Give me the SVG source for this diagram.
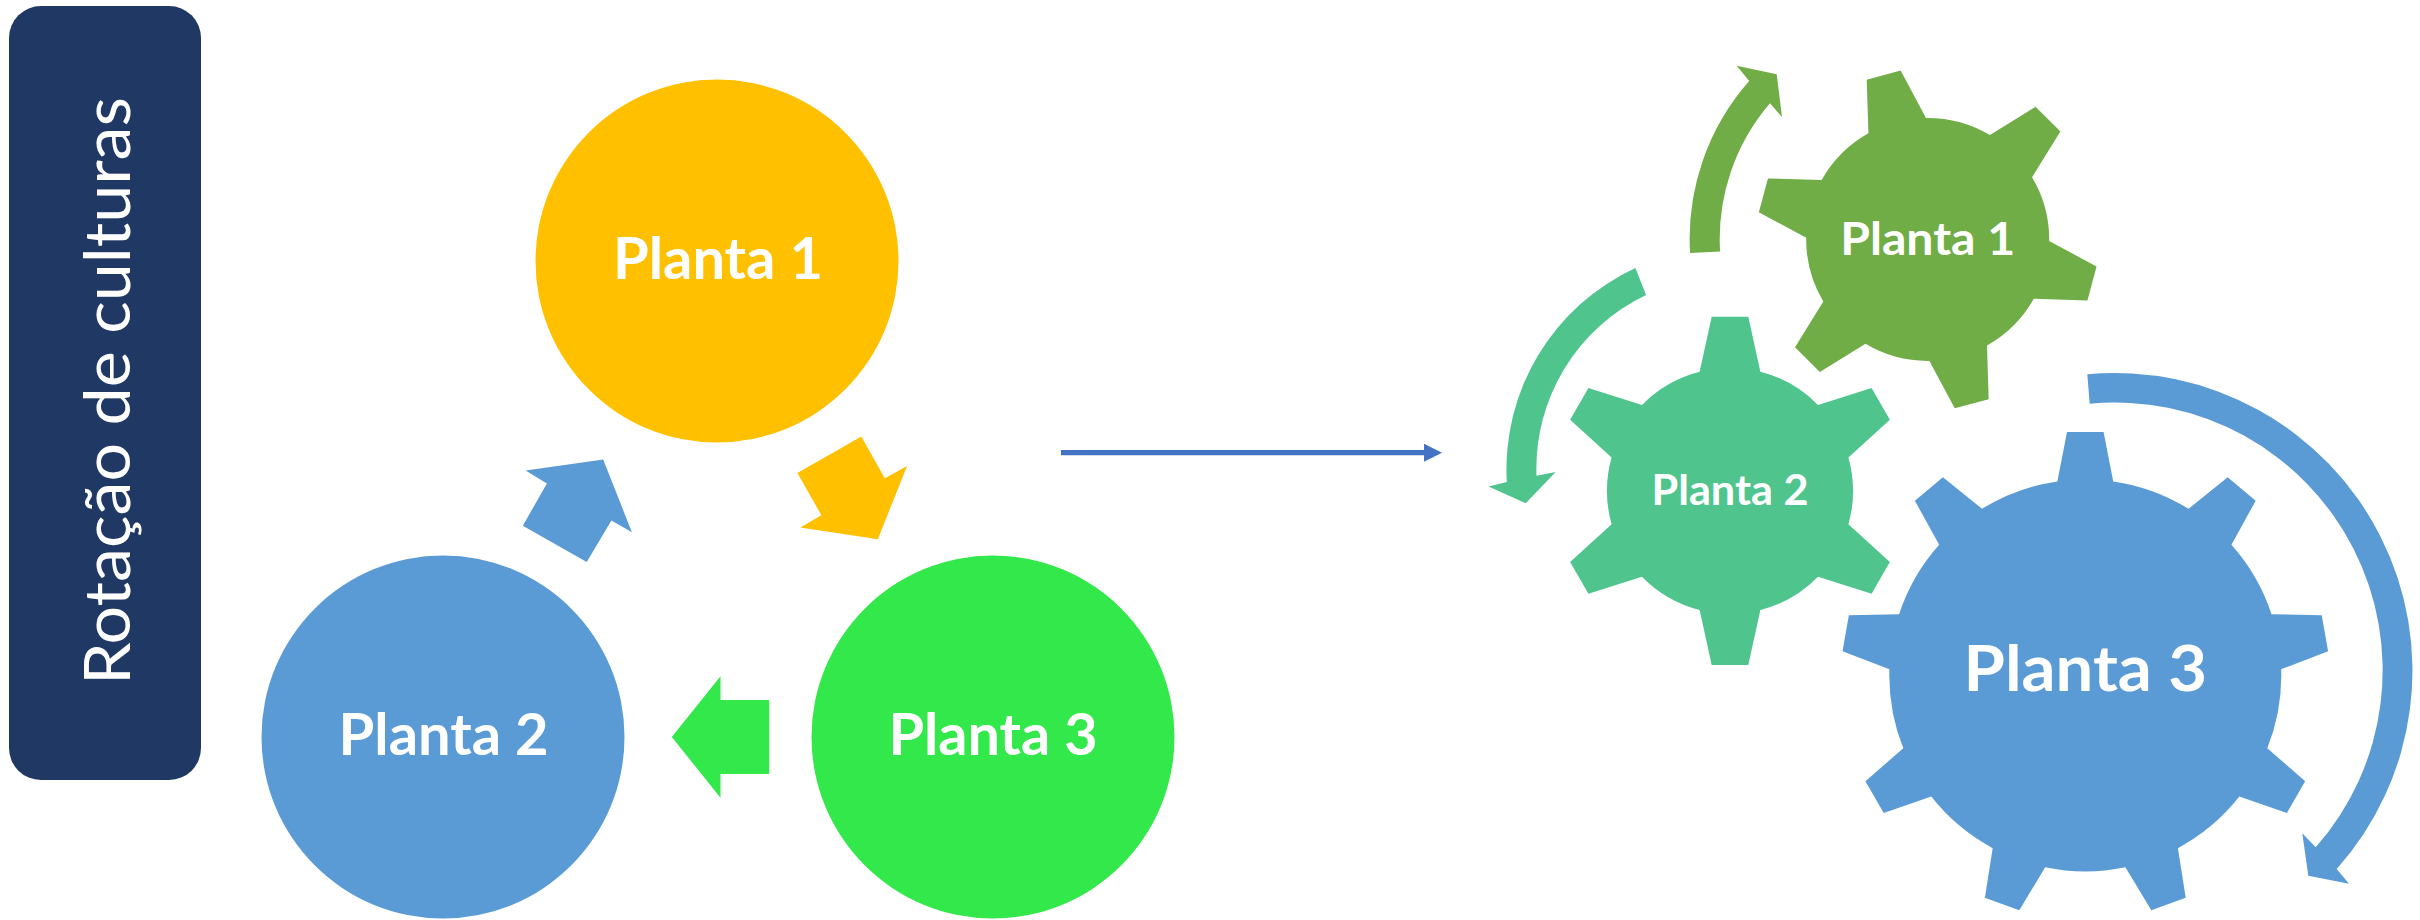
<svg xmlns="http://www.w3.org/2000/svg" width="2420" height="920" viewBox="0 0 2420 920">
<defs>
<style>
.lbl{font-family:Lato,"Open Sans","Liberation Sans",sans-serif;font-weight:700;fill:#ffffff;text-anchor:middle}
.title{font-family:Lato,"Open Sans","Liberation Sans",sans-serif;font-weight:400;fill:#ffffff;text-anchor:middle}
.yellow{fill:#FFC000}
.blue{fill:#5B9BD5}
.lime{fill:#33E84A}
.olive{fill:#70AD47}
.teal{fill:#4FC58D}
</style>
<marker id="head" markerUnits="userSpaceOnUse" markerWidth="18" markerHeight="18" refX="0" refY="9" orient="auto">
<path d="M0,0 L18,9 L0,18 Z" fill="#4472C4"/>
</marker>
</defs>
<rect x="0" y="0" width="2420" height="920" fill="#ffffff"/>

<g id="title">
<rect x="9" y="6" width="192" height="774" rx="32" ry="32" fill="#203864"/>
<text class="title" transform="translate(130,391) rotate(-90)" x="0" y="0" font-size="64" textLength="588" lengthAdjust="spacingAndGlyphs">Rotação de culturas</text>
</g>

<g id="circle1">
<circle class="yellow" cx="717" cy="261" r="181.5"/>
<text class="lbl" x="718" y="279" font-size="56.5" textLength="210" lengthAdjust="spacingAndGlyphs">Planta 1</text>
</g>
<g id="circle2">
<circle class="blue" cx="443" cy="737" r="181.5"/>
<text class="lbl" x="443.6" y="755" font-size="56.5" textLength="210" lengthAdjust="spacingAndGlyphs">Planta 2</text>
</g>
<g id="circle3">
<circle class="lime" cx="993" cy="737" r="181.5"/>
<text class="lbl" x="993" y="755" font-size="56.5" textLength="209" lengthAdjust="spacingAndGlyphs">Planta 3</text>
</g>

<g id="gear1">
<path class="olive" d="M1868.42,133.34 L1866.70,79.65 L1900.65,70.55 L1926.00,117.91 A121.5,121.5 0 0 1 1989.91,135.03 L2035.55,106.70 L2060.40,131.55 L2032.07,177.19 A121.5,121.5 0 0 1 2049.19,241.10 L2096.55,266.45 L2087.45,300.40 L2033.76,298.68 A121.5,121.5 0 0 1 1986.98,345.46 L1988.70,399.15 L1954.75,408.25 L1929.40,360.89 A121.5,121.5 0 0 1 1865.49,343.77 L1819.85,372.10 L1795.00,347.25 L1823.33,301.61 A121.5,121.5 0 0 1 1806.21,237.70 L1758.85,212.35 L1767.95,178.40 L1821.64,180.12 A121.5,121.5 0 0 1 1868.42,133.34 Z"/>
<text class="lbl" x="1927.7" y="255.2" font-size="46.6" textLength="175" lengthAdjust="spacingAndGlyphs">Planta 1</text>
</g>
<g id="gear2">
<path class="teal" d="M1699.62,371.71 L1711.71,316.86 L1748.29,316.86 L1760.38,371.71 A123,123 0 0 1 1818.03,405.00 L1871.58,388.04 L1889.87,419.72 L1848.41,457.62 A123,123 0 0 1 1848.41,524.18 L1889.87,562.08 L1871.58,593.76 L1818.03,576.80 A123,123 0 0 1 1760.38,610.09 L1748.29,664.94 L1711.71,664.94 L1699.62,610.09 A123,123 0 0 1 1641.97,576.80 L1588.42,593.76 L1570.13,562.08 L1611.59,524.18 A123,123 0 0 1 1611.59,457.62 L1570.13,419.72 L1588.42,388.04 L1641.97,405.00 A123,123 0 0 1 1699.62,371.71 Z"/>
<text class="lbl" x="1730" y="504.6" font-size="42.6" textLength="157" lengthAdjust="spacingAndGlyphs">Planta 2</text>
</g>
<g id="gear3">
<path class="blue" d="M2057.35,481.40 L2067.00,432.09 L2103.60,432.09 L2113.25,481.40 A196,196 0 0 1 2188.59,508.82 L2227.67,477.25 L2255.71,500.77 L2231.42,544.77 A196,196 0 0 1 2271.50,614.19 L2321.74,615.13 L2328.09,651.17 L2281.20,669.24 A196,196 0 0 1 2267.29,748.19 L2305.17,781.22 L2286.87,812.89 L2239.34,796.61 A196,196 0 0 1 2177.93,848.13 L2185.71,897.78 L2151.33,910.30 L2125.38,867.26 A196,196 0 0 1 2045.22,867.26 L2019.27,910.30 L1984.89,897.78 L1992.67,848.13 A196,196 0 0 1 1931.26,796.61 L1883.73,812.89 L1865.43,781.22 L1903.31,748.19 A196,196 0 0 1 1889.40,669.24 L1842.51,651.17 L1848.86,615.13 L1899.10,614.19 A196,196 0 0 1 1939.18,544.77 L1914.89,500.77 L1942.93,477.25 L1982.01,508.82 A196,196 0 0 1 2057.35,481.40 Z"/>
<text class="lbl" x="2085.3" y="691" font-size="63.9" textLength="243.5" lengthAdjust="spacingAndGlyphs">Planta 3</text>
</g>

<g id="connectors">
<polygon class="yellow" points="797.4,472.9 861.3,436.5 884.8,478.2 907.1,465.9 877.8,539.2 800.3,527.5 821.4,515.2"/>
<polygon class="lime" points="671.8,737 720.5,676.2 720.5,700 769.2,700 769.2,774 720.5,774 720.5,797.8"/>
<polygon class="blue" points="525.7,470.6 603.2,459.4 631.9,532.2 611.4,520.5 586.7,562.1 522.8,525.7 546.9,483.5"/>
<line x1="1061" y1="452.7" x2="1424" y2="452.7" stroke="#4472C4" stroke-width="5.3" marker-end="url(#head)"/>
<path class="olive" d="M1690.1,253.1 A238,238 0 0 1 1749.2,81.0 L1736.7,65.7 L1776.7,74.3 L1782.0,117.0 L1770.0,103.3 A208,208 0 0 0 1720.1,251.4 Z"/>
<path class="teal" d="M1635.4,268.1 A221.5,221.5 0 0 0 1506.8,482.0 L1488.5,486.5 L1525.7,503.2 L1555.7,472.0 L1536.5,475.7 A192,192 0 0 1 1646.1,295.1 Z"/>
<path class="blue" d="M2087.3,374.3 A297.6,297.6 0 0 1 2336.7,869.0 L2349.0,883.7 L2308.3,875.7 L2302.3,833.3 L2315.7,847.3 A267.7,267.7 0 0 0 2089.7,403.7 Z"/>
</g>
</svg>
